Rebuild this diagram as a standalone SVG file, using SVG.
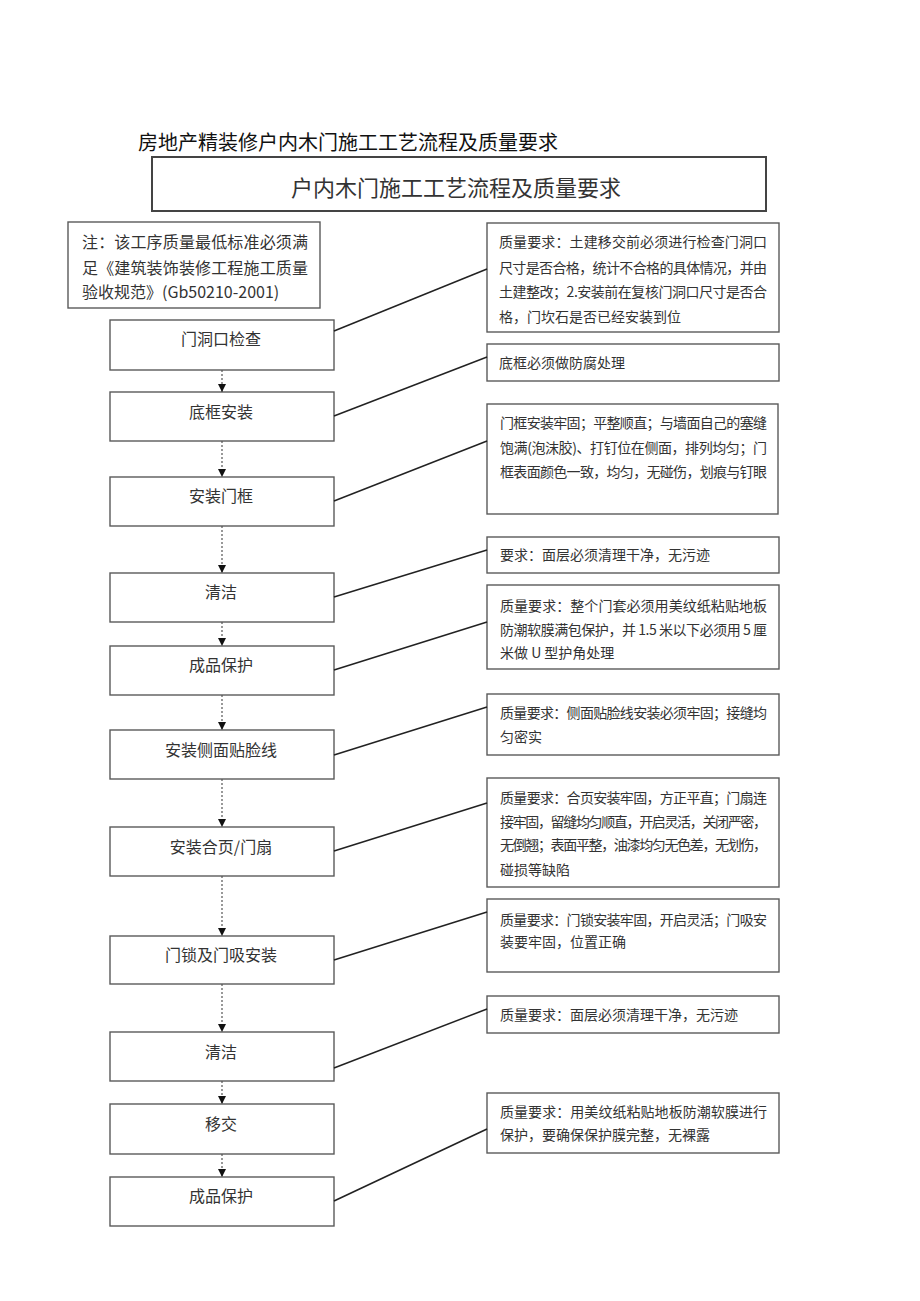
<svg xmlns="http://www.w3.org/2000/svg" width="920" height="1301" viewBox="0 0 920 1301">
<style>
  .bx { fill: #fff; stroke: #5a5a5a; stroke-width: 1.4; }
  .hd { fill: #fff; stroke: #444; stroke-width: 2; }
  .t  { font-family: "Noto Sans CJK SC", "Liberation Serif", serif; fill: #333; }
  .lt { font-size: 16px; text-anchor: middle; }
  .rt { font-size: 14px; }
  .nt { font-size: 16px; }
  .ln { stroke: #222; stroke-width: 1.5; fill: none; }
  .ar { stroke: #555; stroke-width: 1.2; stroke-dasharray: 2 2; fill: none; marker-end: url(#tri); }
</style>
<defs>
  <marker id="tri" markerUnits="userSpaceOnUse" markerWidth="8" markerHeight="8" viewBox="0 0 8 8" refX="8" refY="4" orient="auto">
    <path d="M0,0 L8,4 L0,8 Z" fill="#111"/>
  </marker>
</defs>
<rect width="920" height="1301" fill="#fff"/>

<text id="page-title" x="138" y="150" font-size="20" style="font-family:'Noto Sans CJK SC','Liberation Sans',sans-serif" fill="#111">房地产精装修户内木门施工工艺流程及质量要求</text>

<g id="header">
  <rect class="hd" x="152" y="157" width="614" height="54"/>
  <text class="t" x="456" y="196" font-size="22" text-anchor="middle" fill="#222">户内木门施工工艺流程及质量要求</text>
</g>

<g id="note">
  <rect class="bx" x="68" y="222" width="252" height="86"/>
  <text class="t nt" x="82" y="248" textLength="226" lengthAdjust="spacing">注：该工序质量最低标准必须满</text>
  <text class="t nt" x="82" y="274" textLength="226" lengthAdjust="spacing">足《建筑装饰装修工程施工质量</text>
  <text class="t nt" x="82" y="298">验收规范》(Gb50210-2001)</text>
</g>

<g id="s1"><rect class="bx" x="110" y="320" width="224" height="50"/><text class="t lt" x="221" y="345">门洞口检查</text></g>
<g id="s2"><rect class="bx" x="110" y="392" width="224" height="49"/><text class="t lt" x="221" y="418">底框安装</text></g>
<g id="s3"><rect class="bx" x="110" y="477" width="224" height="49"/><text class="t lt" x="221" y="502">安装门框</text></g>
<g id="s4"><rect class="bx" x="110" y="573" width="224" height="49"/><text class="t lt" x="221" y="598">清洁</text></g>
<g id="s5"><rect class="bx" x="110" y="646" width="224" height="49"/><text class="t lt" x="221" y="671">成品保护</text></g>
<g id="s6"><rect class="bx" x="110" y="730" width="224" height="49"/><text class="t lt" x="221" y="756">安装侧面贴脸线</text></g>
<g id="s7"><rect class="bx" x="110" y="827" width="224" height="49"/><text class="t lt" x="221" y="853">安装合页/门扇</text></g>
<g id="s8"><rect class="bx" x="110" y="936" width="224" height="48"/><text class="t lt" x="221" y="961">门锁及门吸安装</text></g>
<g id="s9"><rect class="bx" x="110" y="1032" width="224" height="49"/><text class="t lt" x="221" y="1058">清洁</text></g>
<g id="s10"><rect class="bx" x="110" y="1104" width="224" height="50"/><text class="t lt" x="221" y="1130">移交</text></g>
<g id="s11"><rect class="bx" x="110" y="1177" width="224" height="49"/><text class="t lt" x="221" y="1202">成品保护</text></g>

<g id="r1">
  <rect class="bx" x="487" y="223" width="292" height="109"/>
  <text class="t rt" x="499" y="247" textLength="268" lengthAdjust="spacing">质量要求：土建移交前必须进行检查门洞口</text>
  <text class="t rt" x="499" y="273" textLength="268" lengthAdjust="spacing">尺寸是否合格，统计不合格的具体情况，并由</text>
  <text class="t rt" x="499" y="297" textLength="268" lengthAdjust="spacing">土建整改；2.安装前在复核门洞口尺寸是否合</text>
  <text class="t rt" x="499" y="322">格，门坎石是否已经安装到位</text>
</g>
<g id="r2">
  <rect class="bx" x="487" y="344" width="292" height="37"/>
  <text class="t rt" x="499" y="368">底框必须做防腐处理</text>
</g>
<g id="r3">
  <rect class="bx" x="487" y="404" width="291" height="110"/>
  <text class="t rt" x="500" y="428" textLength="267" lengthAdjust="spacing">门框安装牢固；平整顺直；与墙面自己的塞缝</text>
  <text class="t rt" x="500" y="453" textLength="267" lengthAdjust="spacing">饱满(泡沫胶)、打钉位在侧面，排列均匀；门</text>
  <text class="t rt" x="500" y="477" textLength="267" lengthAdjust="spacing">框表面颜色一致，均匀，无碰伤，划痕与钉眼</text>
</g>
<g id="r4">
  <rect class="bx" x="487" y="537" width="292" height="36"/>
  <text class="t rt" x="500" y="560">要求：面层必须清理干净，无污迹</text>
</g>
<g id="r5">
  <rect class="bx" x="487" y="585" width="292" height="84"/>
  <text class="t rt" x="500" y="611" textLength="267" lengthAdjust="spacing">质量要求：整个门套必须用美纹纸粘贴地板</text>
  <text class="t rt" x="500" y="635" textLength="267" lengthAdjust="spacing">防潮软膜满包保护，并 1.5 米以下必须用 5 厘</text>
  <text class="t rt" x="500" y="658">米做 U 型护角处理</text>
</g>
<g id="r6">
  <rect class="bx" x="487" y="694" width="292" height="61"/>
  <text class="t rt" x="500" y="718" textLength="267" lengthAdjust="spacing">质量要求：侧面贴脸线安装必须牢固；接缝均</text>
  <text class="t rt" x="500" y="742">匀密实</text>
</g>
<g id="r7">
  <rect class="bx" x="487" y="778" width="292" height="109"/>
  <text class="t rt" x="500" y="803" textLength="267" lengthAdjust="spacing">质量要求：合页安装牢固，方正平直；门扇连</text>
  <text class="t rt" x="500" y="827" textLength="267" lengthAdjust="spacing">接牢固，留缝均匀顺直，开启灵活，关闭严密，</text>
  <text class="t rt" x="500" y="850" textLength="267" lengthAdjust="spacing">无倒翘；表面平整，油漆均匀无色差，无划伤，</text>
  <text class="t rt" x="500" y="875">碰损等缺陷</text>
</g>
<g id="r8">
  <rect class="bx" x="487" y="899" width="292" height="73"/>
  <text class="t rt" x="500" y="925" textLength="267" lengthAdjust="spacing">质量要求：门锁安装牢固，开启灵活；门吸安</text>
  <text class="t rt" x="500" y="947">装要牢固，位置正确</text>
</g>
<g id="r9">
  <rect class="bx" x="487" y="996" width="292" height="37"/>
  <text class="t rt" x="500" y="1020">质量要求：面层必须清理干净，无污迹</text>
</g>
<g id="r10">
  <rect class="bx" x="487" y="1093" width="292" height="60"/>
  <text class="t rt" x="500" y="1117" textLength="267" lengthAdjust="spacing">质量要求：用美纹纸粘贴地板防潮软膜进行</text>
  <text class="t rt" x="500" y="1140">保护，要确保保护膜完整，无裸露</text>
</g>

<g id="connectors">
  <line class="ar" x1="222" y1="370" x2="222" y2="392"/>
  <line class="ar" x1="222" y1="441" x2="222" y2="477"/>
  <line class="ar" x1="222" y1="526" x2="222" y2="573"/>
  <line class="ar" x1="222" y1="622" x2="222" y2="646"/>
  <line class="ar" x1="222" y1="695" x2="222" y2="730"/>
  <line class="ar" x1="222" y1="779" x2="222" y2="827"/>
  <line class="ar" x1="222" y1="876" x2="222" y2="936"/>
  <line class="ar" x1="222" y1="984" x2="222" y2="1032"/>
  <line class="ar" x1="222" y1="1081" x2="222" y2="1104"/>
  <line class="ar" x1="222" y1="1154" x2="222" y2="1177"/>
  <line class="ln" x1="334" y1="331" x2="487" y2="269"/>
  <line class="ln" x1="334" y1="416" x2="487" y2="357"/>
  <line class="ln" x1="334" y1="501" x2="487" y2="441"/>
  <line class="ln" x1="334" y1="597" x2="487" y2="550"/>
  <line class="ln" x1="334" y1="670" x2="487" y2="622"/>
  <line class="ln" x1="334" y1="755" x2="487" y2="707"/>
  <line class="ln" x1="334" y1="851" x2="487" y2="803"/>
  <line class="ln" x1="334" y1="960" x2="487" y2="912"/>
  <line class="ln" x1="334" y1="1068" x2="487" y2="1009"/>
  <line class="ln" x1="334" y1="1201" x2="487" y2="1129"/>
</g>
</svg>
